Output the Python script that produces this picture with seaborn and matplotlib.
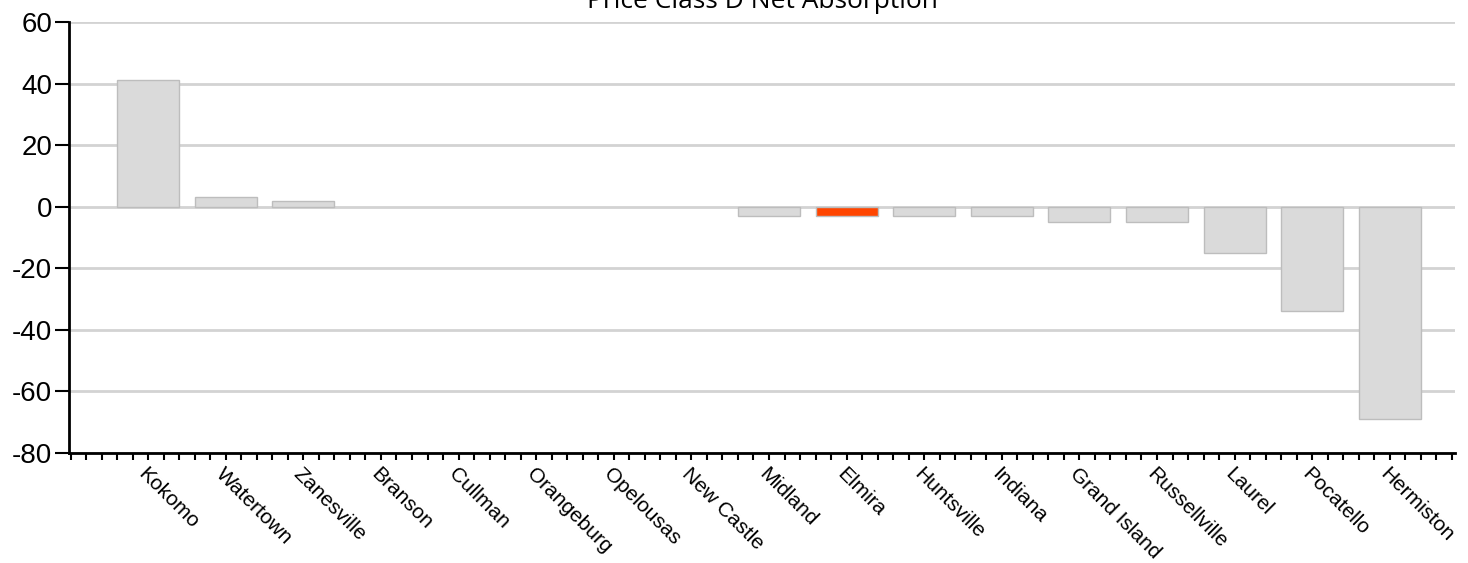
import seaborn as sns
import matplotlib.pyplot as plt
import pandas as pd
import numpy as np

# chart data
cities = ['Kokomo', 'Watertown', 'Zanesville', 'Branson', 'Cullman', 'Orangeburg',
          'Opelousas', 'New Castle', 'Midland', 'Elmira', 'Huntsville', 'Indiana',
          'Grand Island', 'Russellville', 'Laurel', 'Pocatello', 'Hermiston']
absorption = [41, 3, 2, 0, 0, 0, 0, 0, -3, -3, -3, -3, -5, -5, -15, -34, -69]
highlight = 'Elmira'
y_ticks = [-80, -60, -40, -20, 0, 20, 40, 60]

df = pd.DataFrame({'city': cities, 'value': absorption})
palette = {c: ('#ff4500' if c == highlight else '#dadada') for c in cities}

sns.set_style('white')
plt.rcParams['font.family'] = ['Liberation Sans', 'DejaVu Sans']
plt.rcParams['text.color'] = 'black'
plt.rcParams['xtick.color'] = 'black'
plt.rcParams['ytick.color'] = 'black'

fig = plt.figure(figsize=(14.68, 5.63), dpi=100)
ax = fig.add_axes([69 / 1468, 1 - 453 / 563, (1455 - 69) / 1468, (453 - 22) / 563])

sns.barplot(data=df, x='city', y='value', hue='city', palette=palette, legend=False,
            width=0.8, edgecolor='#bdbdbd', linewidth=1, saturation=1, ax=ax)
# no outline on empty bars
for p in ax.patches:
    if p.get_height() == 0:
        p.set_linewidth(0)

ax.set_ylim(-80, 60)
ax.set_xlim(-1.02, 16.84)
ax.set_yticks(y_ticks)
ax.set_yticklabels([str(v) for v in y_ticks], fontsize=20)
ax.set_xticks(range(len(cities)))
ax.set_xticklabels(cities, rotation=-45, ha='left', va='top', rotation_mode='anchor', fontsize=15)
ax.set_xticks(np.arange(-1.0, 16.84, 0.2), minor=True)
ax.tick_params(axis='x', which='both', direction='out', length=5, width=1.5, pad=3, bottom=True)
ax.tick_params(axis='y', direction='out', length=10, width=1.5, pad=2, left=True)
ax.set_xlabel('')
ax.set_ylabel('')

ax.grid(axis='y', color='#d3d3d3', linewidth=2)
ax.set_axisbelow(True)
for s in ['top', 'right']:
    ax.spines[s].set_visible(False)
for s in ['left', 'bottom']:
    ax.spines[s].set_color('black')
    ax.spines[s].set_linewidth(2)

fig.text((69 + 1455) / 2 / 1468, 1 - 8 / 563, 'Price Class D Net Absorption',
         ha='center', va='baseline', fontsize=19, color='black',
         family=['Open Sans', 'DejaVu Sans'])

fig.savefig('out.png', dpi=100)
